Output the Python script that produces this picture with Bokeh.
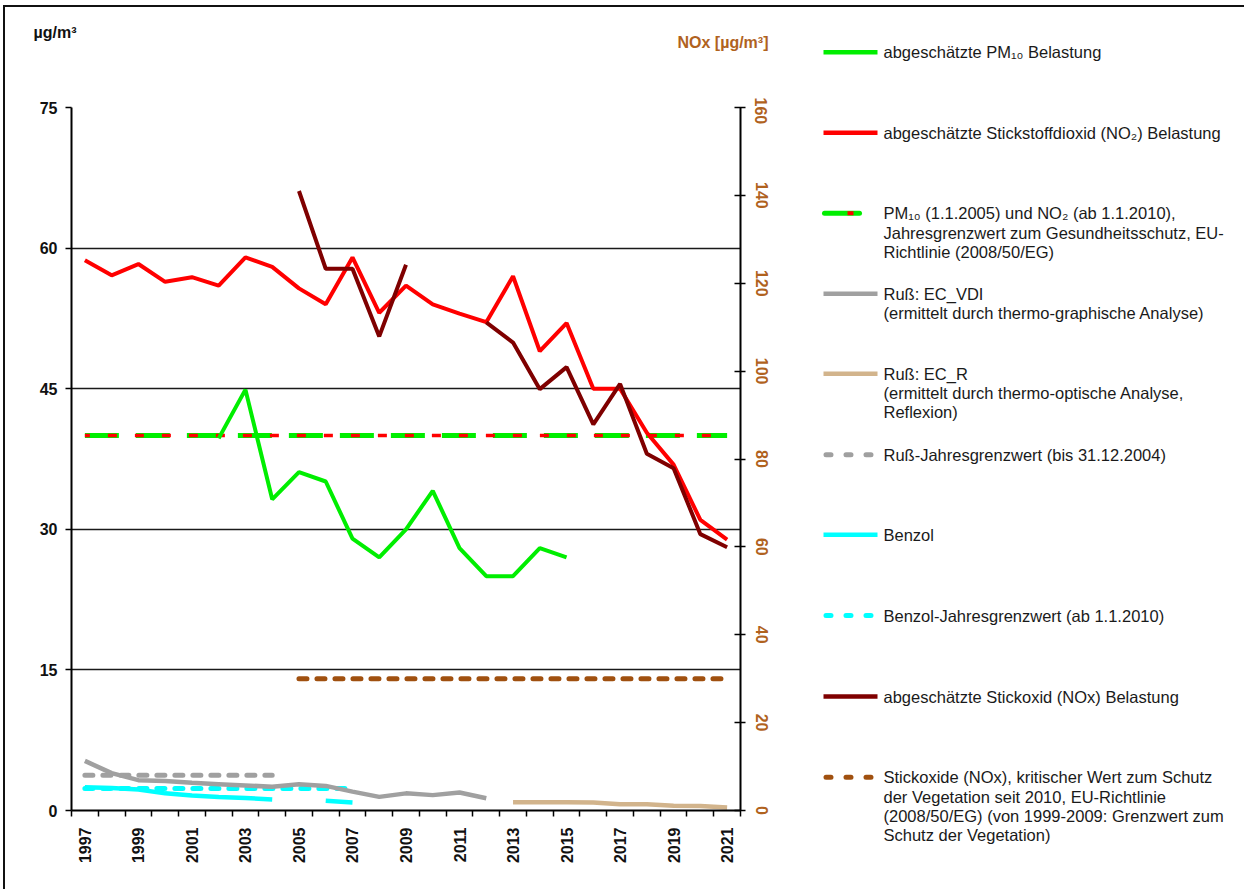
import math
from bokeh.plotting import figure
from bokeh.models import Range1d, LinearAxis, FixedTicker
from bokeh.layouts import row, column
from bokeh.embed import file_html
from bokeh.resources import INLINE
from bokeh.core.properties import value

nan = float("nan")

# ---------------- data ----------------
years = list(range(1997, 2022))
year_labels = [1997, 1999, 2001, 2003, 2005, 2007, 2009, 2011, 2013, 2015, 2017, 2019, 2021]
left_ticks = [0, 15, 30, 45, 60, 75]
right_ticks = [0, 20, 40, 60, 80, 100, 120, 140, 160]

# left axis (µg/m³)
no2 = [58.7, 57.1, 58.3, 56.4, 56.9, 56.0, 59.0, 58.0, 55.7, 54.0, 59.0, 53.1, 56.0,
       54.0, 53.0, 52.1, 57.0, 49.0, 52.0, 45.0, 45.0, 40.3, 36.9, 31.0, 28.9]
pm10 = [nan, nan, nan, nan, nan, 39.7, 44.9, 33.2, 36.1, 35.1, 29.0, 27.0, 30.0,
        34.1, 28.0, 25.0, 25.0, 28.0, 27.0, nan, nan, nan, nan, nan, nan]
limit_pm_no2_years = [1997, 2021]
limit_pm_no2 = [40.0, 40.0]

# right axis (NOx [µg/m³])
nox = [nan, nan, nan, nan, nan, nan, nan, nan, 141.0, 123.3, 123.3, 107.9, 124.2,
       nan, nan, 111.1, 106.5, 95.9, 100.9, 87.9, 97.1, 81.2, 77.9, 62.9, 59.9]
ec_vdi = [11.3, 8.5, 6.9, 6.7, 6.3, 6.0, 5.7, 5.4, 6.0, 5.6, 4.3, 3.1, 3.9,
          3.5, 4.1, 2.8, nan, nan, nan, nan, nan, nan, nan, nan, nan]
ec_r = [nan, nan, nan, nan, nan, nan, nan, nan, nan, nan, nan, nan, nan,
        nan, nan, nan, 1.9, 1.9, 1.9, 1.8, 1.4, 1.4, 1.1, 1.0, 0.7]
benzol = [5.3, 5.1, 4.8, 3.9, 3.4, 3.1, 2.85, 2.5, nan, 2.2, 1.8, nan, nan,
          nan, nan, nan, nan, nan, nan, nan, nan, nan, nan, nan, nan]
limit_russ_years = [1997, 2004]
limit_russ = [8.0, 8.0]
limit_benzol_years = [1997, 2007]
limit_benzol = [5.0, 5.0]
limit_nox_years = [2005, 2021]
limit_nox = [30.0, 30.0]

# ---------------- styles ----------------
C_GREEN = "#00ee00"
C_RED = "#ff0000"
C_DARKRED = "#7f0000"
C_GRAY = "#a0a0a0"
C_TAN = "#d2b48c"
C_CYAN = "#00ffff"
C_BROWN = "#a0500f"
C_AXBROWN = "#b0621e"
FONT = "Liberation Sans"
AX_FS = "16px"

MAIN_W = 807
TOP_H = 90

# ---------------- top strip with unit labels ----------------
top = figure(width=MAIN_W, height=TOP_H, x_range=Range1d(0, MAIN_W), y_range=Range1d(TOP_H, 0),
             x_axis_type=None, y_axis_type=None, min_border=0, title=None,
             output_backend="svg", toolbar_location=None)
top.frame_align = False
top.outline_line_color = None
top.grid.visible = False
top.text(x=[28], y=[25], text=["µg/m³"], text_font=value(FONT), text_font_size="16px",
         text_font_style="bold", text_color="#111111", text_align="left", text_baseline="middle")
top.text(x=[763], y=[35], text=["NOx [µg/m³]"], text_font=value(FONT), text_font_size="16px",
         text_font_style="bold", text_color=C_AXBROWN, text_align="right", text_baseline="middle")

# ---------------- main chart ----------------
p = figure(frame_width=669, frame_height=703, title=None,
           min_border_left=66, min_border_right=72, min_border_top=10, min_border_bottom=79,
           x_range=Range1d(1996.5, 2021.5), y_range=Range1d(0, 75),
           output_backend="svg", toolbar_location=None)
p.frame_align = False
p.extra_y_ranges = {"nox": Range1d(0, 160)}
p.outline_line_color = None
p.background_fill_color = "white"
p.border_fill_color = "white"

# x axis
xa = p.xaxis[0]
xa.ticker = FixedTicker(ticks=year_labels, minor_ticks=[y - 0.5 for y in years] + [years[-1] + 0.5])
xa.major_tick_line_color = None
xa.major_tick_in = 0
xa.major_tick_out = 0
xa.minor_tick_in = 0
xa.minor_tick_out = 6
xa.minor_tick_line_color = "black"
xa.minor_tick_line_width = 1.5
xa.axis_line_color = "black"
xa.axis_line_width = 2
xa.major_label_orientation = math.pi / 2
xa.major_label_standoff = 11
xa.major_label_text_font = FONT
xa.major_label_text_font_size = AX_FS
xa.major_label_text_font_style = "bold"
xa.major_label_text_color = "#111111"

# left axis
ya = p.yaxis[0]
ya.ticker = FixedTicker(ticks=left_ticks)
ya.major_tick_in = 0
ya.major_tick_out = 6
ya.major_tick_line_width = 1.5
ya.minor_tick_line_color = None
ya.axis_line_width = 2
ya.major_label_standoff = 8
ya.major_label_text_font = FONT
ya.major_label_text_font_size = AX_FS
ya.major_label_text_font_style = "bold"
ya.major_label_text_color = "#111111"

# right axis
ra = LinearAxis(y_range_name="nox", ticker=FixedTicker(ticks=right_ticks))
ra.major_tick_in = 6
ra.major_tick_out = 5
ra.major_tick_line_width = 1.5
ra.minor_tick_line_color = None
ra.axis_line_width = 2
ra.major_label_orientation = "vertical"
ra.major_label_standoff = 10
ra.major_label_text_font = FONT
ra.major_label_text_font_size = AX_FS
ra.major_label_text_font_style = "bold"
ra.major_label_text_color = C_AXBROWN
p.add_layout(ra, "right")

p.xgrid.visible = False
p.ygrid.ticker = FixedTicker(ticks=left_ticks)
p.ygrid.grid_line_color = "#1a1a1a"
p.ygrid.grid_line_width = 1.5

# limit lines
p.line(limit_pm_no2_years, limit_pm_no2, line_color=C_GREEN, line_width=5, line_dash="34 17")
p.line(limit_pm_no2_years, limit_pm_no2, line_color=C_RED, line_width=3.5, line_dash="9 18",
       line_dash_offset=4)
p.line(limit_russ_years, limit_russ, y_range_name="nox", line_color=C_GRAY, line_width=5,
       line_dash="8 10", line_cap="round")
p.line(limit_benzol_years, limit_benzol, y_range_name="nox", line_color=C_CYAN, line_width=5,
       line_dash="8 10", line_cap="round")
p.line(limit_nox_years, limit_nox, y_range_name="nox", line_color=C_BROWN, line_width=5,
       line_dash="8 10", line_cap="round")

# data series
p.line(years, ec_vdi, y_range_name="nox", line_color=C_GRAY, line_width=4.5)
p.line(years, ec_r, y_range_name="nox", line_color=C_TAN, line_width=4.5)
p.line(years, benzol, y_range_name="nox", line_color=C_CYAN, line_width=4.5)
p.line(years, pm10, line_color=C_GREEN, line_width=4)
p.line(years, no2, line_color=C_RED, line_width=4)
p.line(years, nox, y_range_name="nox", line_color=C_DARKRED, line_width=4)

# ---------------- legend panel ----------------
LW, LH = 432, 882
leg = figure(width=LW, height=LH, x_range=Range1d(0, LW), y_range=Range1d(LH, 0),
             x_axis_type=None, y_axis_type=None, min_border=0, title=None,
             output_backend="svg", toolbar_location=None)
leg.frame_align = False
leg.outline_line_color = None
leg.grid.visible = False

legend_items = [
    (C_GREEN, None, ["abgeschätzte PM₁₀ Belastung"]),
    (C_RED, None, ["abgeschätzte Stickstoffdioxid (NO₂) Belastung"]),
    ("limit", None, ["PM₁₀  (1.1.2005) und NO₂  (ab 1.1.2010),",
                     "Jahresgrenzwert zum Gesundheitsschutz, EU-",
                     "Richtlinie  (2008/50/EG)"]),
    (C_GRAY, None, ["Ruß: EC_VDI", "(ermittelt durch thermo-graphische Analyse)"]),
    (C_TAN, None, ["Ruß: EC_R", "(ermittelt durch thermo-optische Analyse,", "Reflexion)"]),
    (C_GRAY, "dash", ["Ruß-Jahresgrenzwert (bis 31.12.2004)"]),
    (C_CYAN, None, ["Benzol"]),
    (C_CYAN, "dash", ["Benzol-Jahresgrenzwert (ab 1.1.2010)"]),
    (C_DARKRED, None, ["abgeschätzte Stickoxid (NOx) Belastung"]),
    (C_BROWN, "dash", ["Stickoxide (NOx), kritischer Wert zum Schutz",
                       "der Vegetation seit 2010, EU-Richtlinie",
                       "(2008/50/EG) (von 1999-2009: Grenzwert zum",
                       "Schutz der Vegetation)"]),
]
item_y = [44.7, 125.3, 205.7, 286.3, 366.3, 447.3, 527.3, 608, 689, 769.7]
line_gap = 19.3
tx, ty, tt = [], [], []
for (col, dash, lines), yy in zip(legend_items, item_y):
    if col == "limit":
        leg.line([12, 47], [yy, yy], line_color=C_GREEN, line_width=5, line_cap="round")
        leg.line([35, 41], [yy, yy], line_color=C_RED, line_width=4)
    elif dash:
        leg.line([13.5, 65], [yy, yy], line_color=col, line_width=5, line_dash="5 15", line_cap="round")
    else:
        leg.line([11, 65], [yy, yy], line_color=col, line_width=4.5)
    for k, t in enumerate(lines):
        tx.append(71)
        ty.append(yy + k * line_gap)
        tt.append(t)
leg.text(x=tx, y=ty, text=tt, text_font=value(FONT), text_font_size="16.5px",
         text_baseline="middle", text_align="left", text_color="#1a1a1a")

layout = row(column(top, p), leg, styles={"margin": "5px 0 0 3px",
                                          "border-left": "2px solid #111111",
                                          "border-top": "2px solid #111111"})
open("out.html", "w").write(file_html(layout, INLINE))
